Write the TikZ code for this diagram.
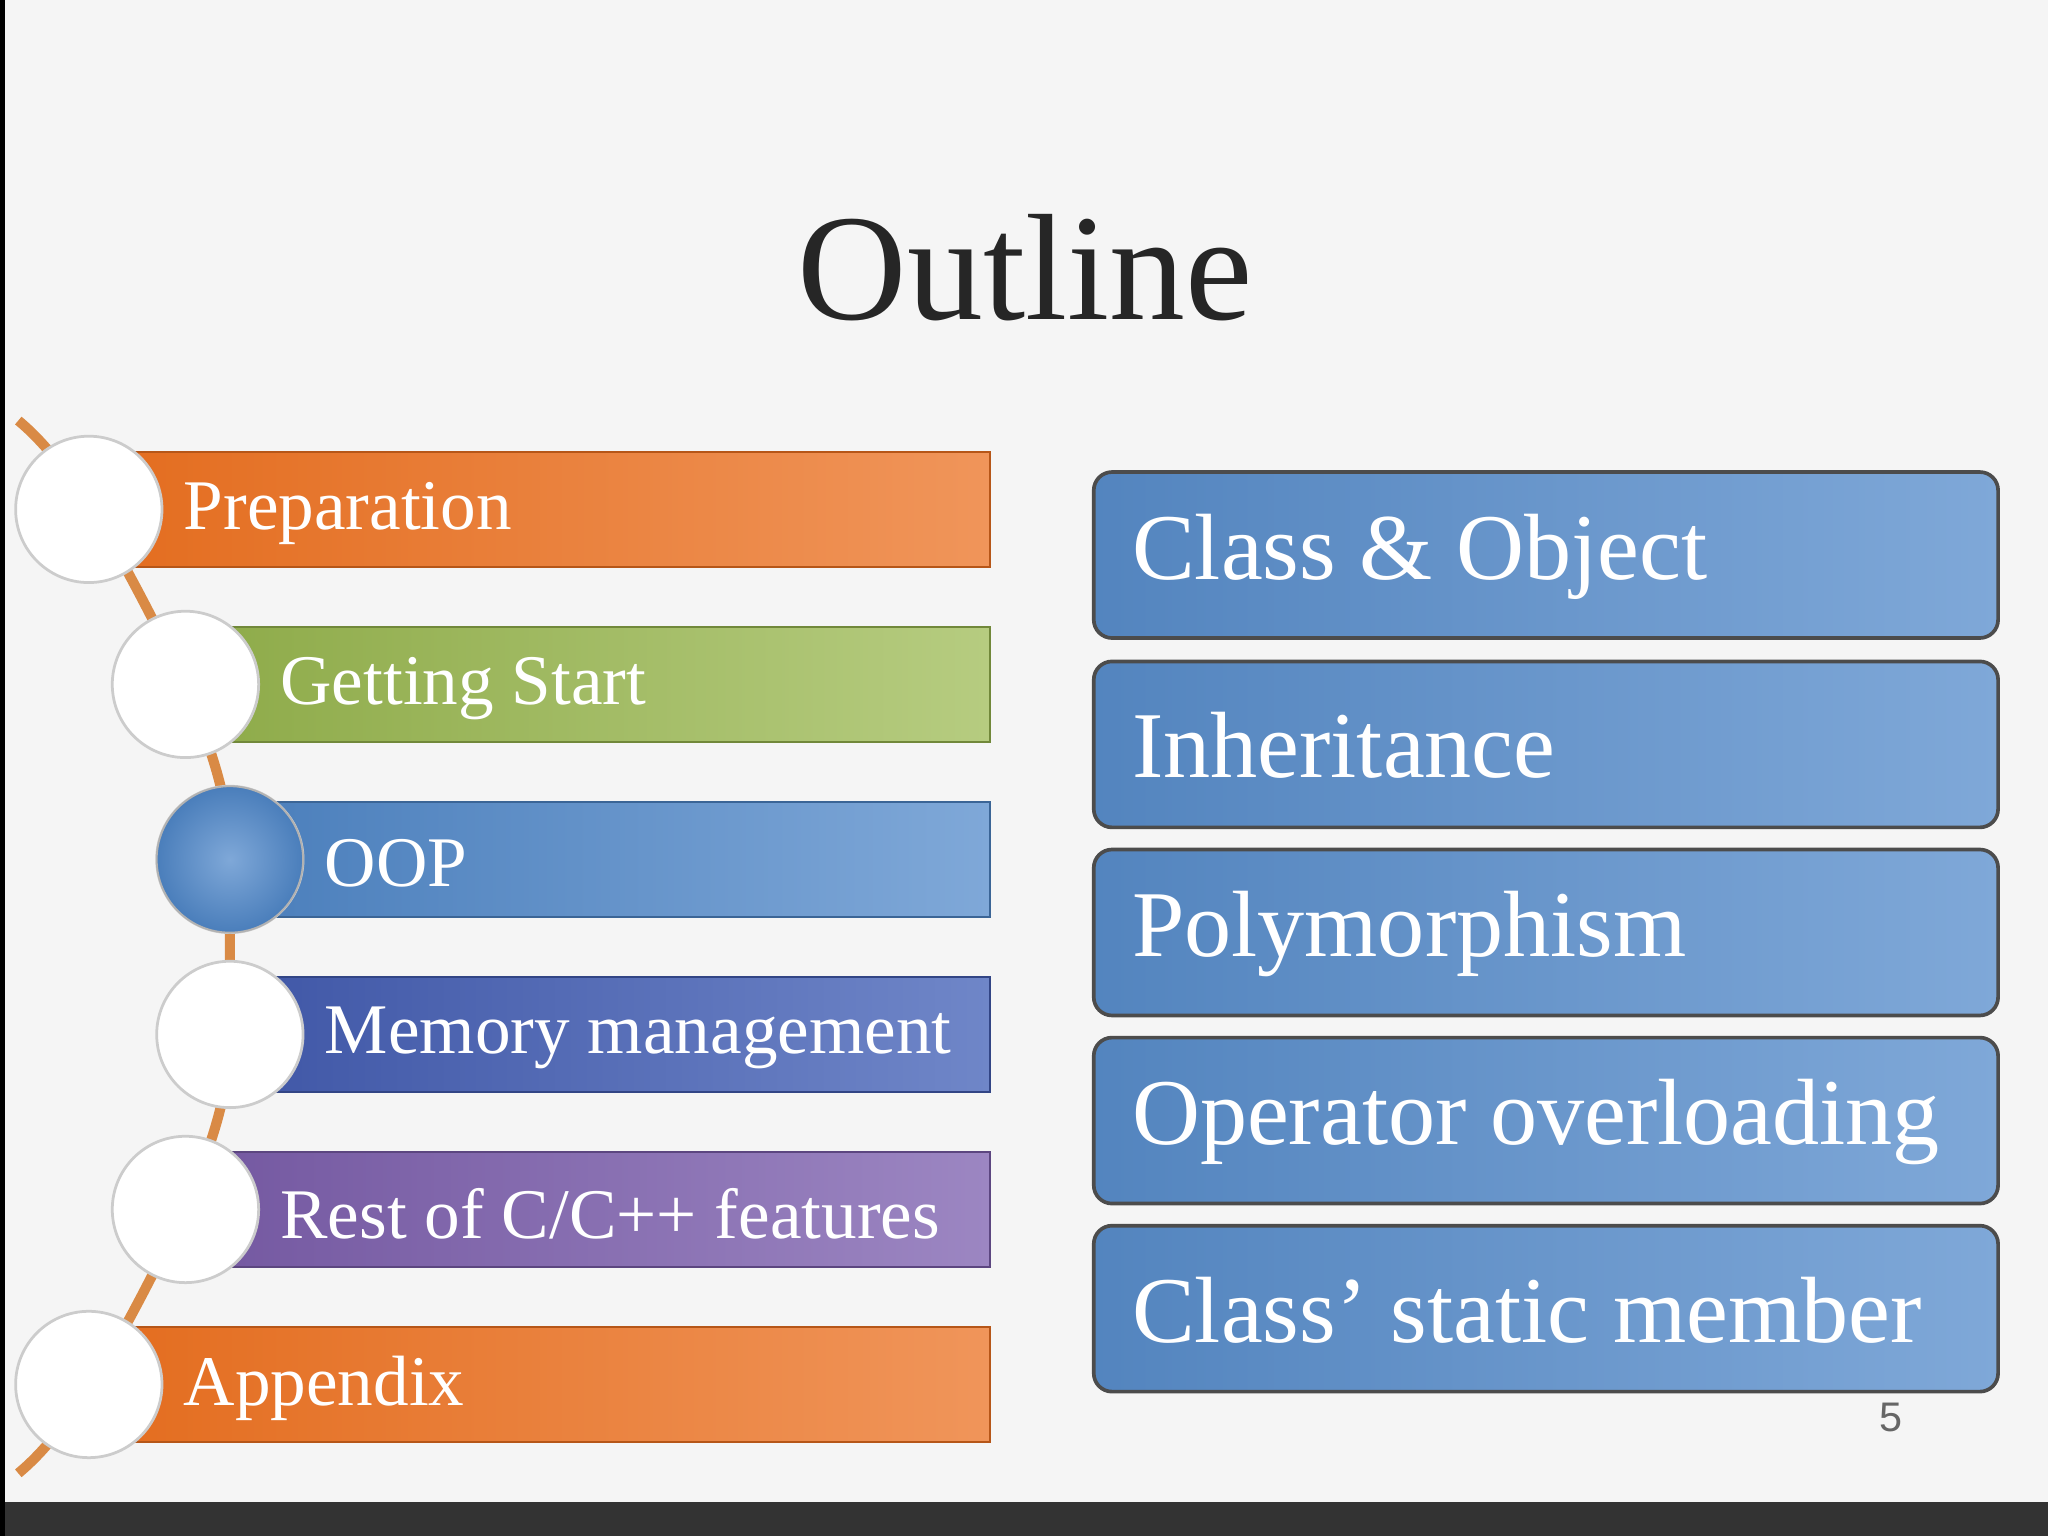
\documentclass[tikz,border=0pt]{standalone}
\usepackage{fontspec}
\setmainfont{Liberation Serif}
\newfontfamily\numfont{Liberation Sans}
\definecolor{orA}{HTML}{E36C1E}\definecolor{orB}{HTML}{F0955A}
\definecolor{grA}{HTML}{8DAA48}\definecolor{grB}{HTML}{B6CC80}
\definecolor{blA}{HTML}{4A7EBB}\definecolor{blB}{HTML}{7FA8D8}
\definecolor{inA}{HTML}{3F56A6}\definecolor{inB}{HTML}{6F86C8}
\definecolor{puA}{HTML}{7357A0}\definecolor{puB}{HTML}{9C86C2}
\definecolor{spine}{HTML}{D98A45}
\begin{document}
\begin{tikzpicture}[x=0.01cm,y=-0.01cm,
  bartext/.style={anchor=west, text=white, font=\fontsize{15.5}{17}\selectfont, inner sep=0},
  ring/.style={circle, minimum size=1.12cm, inner sep=0, draw=black!20, line width=0.6pt, fill=white},
  rbox/.style={rounded corners=0.14cm, draw=black!70, line width=0.8pt, shading=axis, left color=blA!95, right color=blB, minimum width=6.92cm, minimum height=1.27cm, anchor=north west, inner sep=0},
  rtext/.style={anchor=west, text=white, font=\fontsize{20.5}{23}\selectfont, inner sep=0}]
\useasboundingbox (0,0) rectangle (1568,1176);
\fill[white!96!black] (0,0) rectangle (1568,1176);
\fill[black!80] (0,1150) rectangle (1568,1176);
\fill[black] (0,0) rectangle (4,1176);
\node[font=\fontsize{33}{36}\selectfont, text=black!85] (title) at (785,205) {Outline};
% spine
\draw[spine, line width=2.2pt] (14,322) .. controls (60,360) and (100,440) .. (142,524)
  .. controls (160,570) and (176,610) .. (176,658) -- (176,792)
  .. controls (176,840) and (160,880) .. (142,926)
  .. controls (100,1010) and (60,1090) .. (14,1128);
% bars
\foreach \n/\x/\y/\ca/\cb/\t in {p/68/390/orA/orB/Preparation, g/142/524/grA/grB/Getting Start, o/176/658/blA/blB/OOP, m/176/792/inA/inB/Memory management, r/142/926/puA/puB/{Rest of C/C++ features}, a/68/1060/orA/orB/Appendix}{
  \shade[left color=\ca, right color=\cb, draw=\ca!80!black, line width=0.4pt] (\x,\y-44) rectangle (758,\y+44);
  \node[ring] (c\n) at (\x,\y) {};
  \node[bartext] (t\n) at (\x+72,\y+3) {\t};
}
\node[circle, minimum size=1.12cm, inner sep=0, draw=black!30, shading=radial, inner color=blB, outer color=blA] (co2) at (176,658) {};
% right boxes
\foreach \n/\y/\t in {1/360/Class \& Object, 2/505/Inheritance, 3/649/Polymorphism, 4/793/Operator overloading, 5/937/Class’ static member}{
  \node[rbox] (b\n) at (836,\y) {};
  \node[rtext] (bt\n) at (866,\y+66) {\t};
}
\node[font=\numfont\fontsize{9}{10}\selectfont, text=black!60] (num) at (1448,1085) {5};
\end{tikzpicture}
\end{document}
